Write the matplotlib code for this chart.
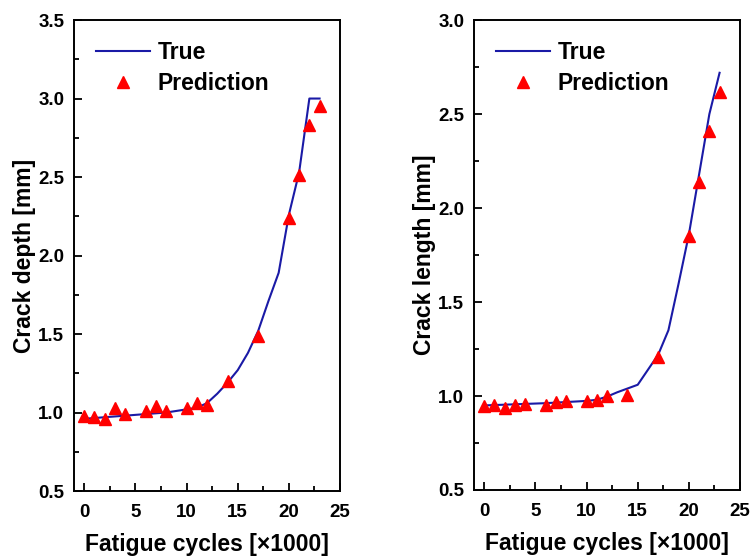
import numpy as np
import matplotlib
matplotlib.use('Agg')
from matplotlib import pyplot as plt
from matplotlib.ticker import MultipleLocator, AutoMinorLocator, FormatStrFormatter

plt.rcParams['font.family'] = ['Liberation Sans', 'DejaVu Sans']
plt.rcParams['font.weight'] = 'bold'

# true curves (cycles x1000)
true_x = [0, 1, 2, 3, 4, 5, 6, 7, 8, 9, 10, 11, 12, 13, 14, 15, 16, 17, 18, 19, 20, 21, 22, 23]
depth_true = [0.96, 0.965, 0.97, 0.975, 0.98, 0.985, 0.99, 0.995, 1.0, 1.01, 1.02, 1.03, 1.06,
              1.12, 1.19, 1.27, 1.38, 1.52, 1.71, 1.89, 2.26, 2.53, 3.0, 3.0]
length_true = [0.95, 0.952, 0.954, 0.956, 0.958, 0.96, 0.962, 0.965, 0.968, 0.971, 0.974, 0.98, 0.997,
               1.02, 1.04, 1.06, 1.14, 1.22, 1.35, 1.60, 1.86, 2.18, 2.50, 2.72]

# predictions
pred_x = [0, 1, 2, 3, 4, 6, 7, 8, 10, 11, 12, 14, 17, 20, 21, 22, 23]
depth_pred = [0.98, 0.97, 0.96, 1.03, 0.99, 1.01, 1.04, 1.01, 1.03, 1.06, 1.05, 1.20, 1.49,
              2.24, 2.51, 2.83, 2.95]
length_pred = [0.947, 0.95, 0.936, 0.954, 0.959, 0.954, 0.966, 0.975, 0.973, 0.98, 1.0, 1.007, 1.21,
               1.85, 2.14, 2.41, 2.62]

line_color = '#1a1aa6'

fig = plt.figure(figsize=(7.53, 5.6), dpi=100)
ax1 = fig.add_axes([0.0983, 0.1232, 0.3533, 0.841])
ax2 = fig.add_axes([0.6295, 0.125, 0.3533, 0.839])


def style_axes(ax, ylim, ylabel):
    ax.set_xlim(-1, 25)
    ax.set_ylim(*ylim)
    ax.xaxis.set_major_locator(MultipleLocator(5))
    ax.yaxis.set_major_locator(MultipleLocator(0.5))
    ax.xaxis.set_minor_locator(AutoMinorLocator(2))
    ax.yaxis.set_minor_locator(AutoMinorLocator(2))
    ax.tick_params(which='both', direction='in', top=False, right=False, width=1.3)
    ax.tick_params(which='major', length=6, labelsize=13.5)
    ax.tick_params(axis='x', which='major', pad=9)
    ax.tick_params(axis='y', which='major', pad=7)
    ax.tick_params(which='minor', length=3.5)
    for s in ax.spines.values():
        s.set_linewidth(1.4)
    ax.yaxis.set_major_formatter(FormatStrFormatter('%.1f'))
    ax.set_xlabel('Fatigue cycles [\u00d71000]', fontsize=16.5, fontweight='bold', labelpad=9)
    ax.set_ylabel(ylabel, fontsize=16.5, fontweight='bold', labelpad=2)
    ax.legend(loc='upper left', frameon=False, fontsize=16.5, handlelength=2.35,
              handletextpad=0.35, borderaxespad=0, borderpad=0, labelspacing=0.35,
              bbox_to_anchor=(0.083, 0.955))


ax1.plot(true_x, depth_true, color=line_color, lw=1.5, label='True')
ax1.plot(pred_x, depth_pred, '^', color='red', ms=8.5, label='Prediction')
style_axes(ax1, (0.5, 3.5), 'Crack depth [mm]')

ax2.plot(true_x, length_true, color=line_color, lw=1.5, label='True')
ax2.plot(pred_x, length_pred, '^', color='red', ms=8.5, label='Prediction')
style_axes(ax2, (0.5, 3.0), 'Crack length [mm]')

fig.savefig('out.png', dpi=100)
